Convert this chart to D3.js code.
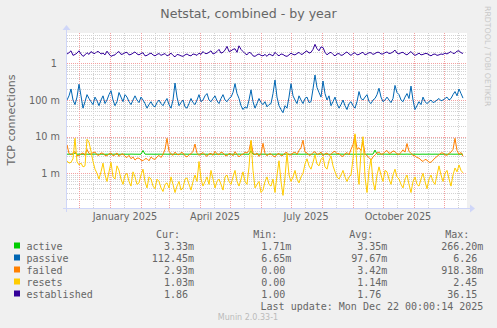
<!DOCTYPE html>
<html><head><meta charset="utf-8">
<script src="https://cdn.jsdelivr.net/npm/d3@7"></script>
<style>
html,body{margin:0;padding:0;background:#f0f0f0;}
svg{display:block;}
text{font-family:"DejaVu Sans",sans-serif;}
.mono{font-family:"DejaVu Sans Mono",monospace;white-space:pre;}
</style></head><body>
<svg id="c" width="497" height="328"></svg>
<script>
// ---------------- data ----------------
const seriesNames = ["active", "passive", "failed", "resets", "established"];
const seriesColors = ["#00cc00", "#0066b3", "#ff8000", "#ffcc00", "#330099"];
const firstSample = "2024-11-19";   // samples every 2 days
const sampleStepDays = 2;

const active = [0.00333,0.00334,0.00335,0.00333,0.0036,0.00334,0.00333,0.00332,0.00333,0.00334,0.00333,0.00333,0.00334,0.00333,0.00335,0.00333,0.00333,0.00334,0.00333,0.00332,
0.00333,0.00334,0.00333,0.00333,0.00335,0.00333,0.00332,0.00333,0.00334,0.00333,0.00333,0.00333,0.00335,0.00334,0.00333,0.00333,0.00332,0.00333,0.0042,0.00334,
0.00333,0.00333,0.00334,0.00333,0.00332,0.00333,0.00334,0.00333,0.00333,0.00335,0.00333,0.00333,0.00334,0.00333,0.00333,0.00332,0.00333,0.00334,0.00333,0.00335,
0.00333,0.00334,0.00333,0.00333,0.00332,0.00333,0.00335,0.00333,0.00334,0.00333,0.00333,0.00333,0.00334,0.00332,0.00333,0.00333,0.00335,0.00333,0.00334,0.00333,
0.00333,0.00332,0.00333,0.00334,0.00333,0.00333,0.00335,0.00333,0.00334,0.00333,0.00333,0.00332,0.0041,0.00334,0.00333,0.00335,0.00333,0.00333,0.00334,0.00333,
0.00333,0.00332,0.00333,0.00334,0.00333,0.00333,0.00335,0.00333,0.00333,0.00334,0.00333,0.00332,0.00333,0.00333,0.00334,0.00333,0.00335,0.00333,0.00333,0.00334,
0.00333,0.00333,0.00332,0.00333,0.00334,0.00333,0.00333,0.00335,0.00333,0.00334,0.00333,0.00333,0.00332,0.00333,0.00334,0.00333,0.00333,0.00335,0.00333,0.00333,
0.00334,0.00333,0.00333,0.00332,0.00333,0.00334,0.00333,0.00333,0.00335,0.00333,0.00333,0.00334,0.00333,0.00333,0.0043,0.00333,0.00334,0.00333,0.00333,0.00335,
0.00333,0.00333,0.00334,0.00333,0.00333,0.00332,0.00333,0.00334,0.00333,0.00333,0.00335,0.00333,0.00333,0.00334,0.00333,0.00333,0.00332,0.00333,0.00334,0.00333,
0.00333,0.00335,0.00333,0.00333,0.00334,0.00333,0.00333,0.00332,0.00333,0.00334,0.00333,0.00333,0.00335,0.00333,0.00333,0.00334,0.00333,0.00332,0.00333];

const passive = [0.1,0.13,0.2,0.1,0.075,0.12,0.27,0.13,0.06,0.09,0.14,0.11,0.09,0.075,0.12,0.095,0.07,0.1,0.13,0.08,
0.1,0.14,0.18,0.1,0.07,0.09,0.16,0.12,0.09,0.14,0.12,0.09,0.075,0.1,0.13,0.1,0.085,0.12,0.1,0.08,
0.06,0.075,0.09,0.07,0.065,0.085,0.1,0.08,0.07,0.09,0.11,0.075,0.06,0.1,0.29,0.12,0.07,0.085,0.1,0.065,
0.06,0.08,0.11,0.085,0.075,0.1,0.14,0.09,0.1,0.13,0.15,0.1,0.09,0.11,0.13,0.095,0.08,0.11,0.14,0.1,
0.09,0.11,0.12,0.16,0.28,0.15,0.11,0.07,0.055,0.065,0.06,0.1,0.19,0.09,0.06,0.08,0.11,0.085,0.075,0.09,
0.065,0.075,0.08,0.15,0.35,0.12,0.07,0.055,0.045,0.07,0.06,0.12,0.28,0.13,0.1,0.08,0.13,0.1,0.08,0.11,
0.12,0.085,0.09,0.2,0.48,0.22,0.16,0.12,0.33,0.15,0.1,0.13,0.07,0.09,0.12,0.08,0.06,0.075,0.1,0.07,
0.055,0.08,0.09,0.07,0.06,0.09,0.17,0.11,0.1,0.12,0.14,0.09,0.08,0.1,0.11,0.14,0.21,0.12,0.09,0.1,
0.12,0.1,0.085,0.11,0.25,0.16,0.14,0.1,0.09,0.12,0.15,0.11,0.24,0.1,0.055,0.07,0.09,0.075,0.12,0.09,
0.08,0.09,0.1,0.085,0.09,0.1,0.11,0.095,0.1,0.11,0.12,0.1,0.11,0.14,0.17,0.13,0.2,0.15,0.1125];

const failed = [0.006,0.0035,0.0032,0.0037,0.0039,0.0031,0.003,0.0034,0.0036,0.0031,0.0045,0.0035,0.0033,0.0037,0.0038,0.0032,0.0031,0.0036,0.0035,0.0031,
0.003,0.0034,0.0036,0.003,0.0032,0.0036,0.0029,0.0033,0.0034,0.0029,0.0027,0.0031,0.0025,0.0028,0.0023,0.0026,0.0026,0.0023,0.0022,0.0025,
0.0025,0.0022,0.0028,0.0025,0.0024,0.0028,0.0031,0.0027,0.0033,0.0045,0.009,0.004,0.0034,0.0031,0.0038,0.0033,0.0032,0.0037,0.0036,0.003,
0.0028,0.0032,0.0034,0.004,0.0063,0.0035,0.0031,0.0034,0.0037,0.0032,0.0029,0.0034,0.0035,0.0031,0.004,0.0034,0.0032,0.0038,0.0036,0.0031,
0.003,0.0035,0.0034,0.003,0.0039,0.0033,0.0028,0.0032,0.0033,0.0038,0.0036,0.0042,0.0075,0.0036,0.0032,0.0036,0.0029,0.0034,0.0066,0.0035,
0.003,0.0034,0.0034,0.003,0.0028,0.0033,0.0035,0.003,0.0031,0.0036,0.0037,0.0032,0.0032,0.0036,0.0038,0.0033,0.0042,0.005,0.008,0.0038,
0.0036,0.0031,0.0032,0.0037,0.0039,0.0033,0.0034,0.0038,0.003,0.0034,0.0036,0.0031,0.0033,0.0038,0.004,0.0034,0.0035,0.003,0.0029,0.0034,
0.0037,0.0032,0.0045,0.006,0.011,0.0045,0.005,0.0042,0.0075,0.0034,0.003,0.0027,0.0023,0.0028,0.0032,0.0036,0.0038,0.0033,0.0034,0.0039,
0.0042,0.0035,0.0036,0.0041,0.0039,0.0034,0.0033,0.0037,0.0044,0.0038,0.0065,0.004,0.0035,0.0031,0.003,0.0027,0.0026,0.0023,0.0021,0.0024,
0.0023,0.002,0.002,0.0023,0.0026,0.0029,0.0032,0.0036,0.0036,0.0032,0.0031,0.0035,0.0038,0.0045,0.009,0.0042,0.0033,0.0037,0.00293];

const resets = [0.0022,0.0019,0.002,0.0025,0.009,0.0021,0.0017,0.0019,0.0015,0.0016,0.0085,0.007,0.004,0.0021,0.0013,0.001,0.0007,0.0011,0.0019,0.0009,
0.0006,0.0011,0.002,0.0008,0.0007,0.0016,0.0012,0.0007,0.0005,0.0009,0.001,0.0006,0.00045,0.0011,0.0008,0.0005,0.00055,0.0009,0.0013,0.0006,
0.0004,0.0008,0.0007,0.00045,0.00038,0.0007,0.0006,0.0004,0.00032,0.0005,0.00055,0.0004,0.0008,0.0005,0.0003,0.00045,0.0006,0.00035,0.0004,0.0007,
0.00075,0.0005,0.00035,0.0006,0.0009,0.0006,0.0021,0.0007,0.00045,0.0006,0.0008,0.0005,0.0012,0.0007,0.0004,0.0006,0.0007,0.0005,0.00035,0.0008,
0.0009,0.0006,0.0005,0.0008,0.0012,0.0006,0.00045,0.0007,0.0011,0.0006,0.0005,0.0015,0.008,0.0012,0.0004,0.0005,0.0006,0.0003,0.00035,0.0006,
0.0008,0.0005,0.00045,0.0007,0.0003,0.0009,0.0022,0.0006,0.00025,0.0008,0.0035,0.0009,0.0006,0.0008,0.0012,0.0007,0.00055,0.0008,0.001,0.0018,
0.0025,0.0016,0.0013,0.002,0.0032,0.0018,0.0016,0.0024,0.0028,0.0015,0.0013,0.0022,0.003,0.0016,0.0011,0.0008,0.0007,0.0009,0.0012,0.0008,
0.0006,0.0008,0.0009,0.0025,0.012,0.0015,0.0005,0.004,0.01,0.0008,0.0003,0.0012,0.0025,0.0006,0.00035,0.0009,0.0015,0.0009,0.0006,0.0012,
0.0011,0.0007,0.0005,0.0009,0.0013,0.0008,0.0007,0.0005,0.0004,0.0007,0.0009,0.0005,0.0003,0.0006,0.0008,0.0005,0.00045,0.0007,0.001,0.0006,
0.00038,0.0007,0.0009,0.0006,0.0005,0.0009,0.0016,0.0009,0.0006,0.001,0.0012,0.0007,0.00045,0.0009,0.0014,0.0011,0.0017,0.0012,0.00103];

const established = [1.8,1.95,2.2,1.65,1.75,1.9,2.2,1.8,1.55,1.7,1.95,1.75,2.1,1.9,1.85,2.1,2.05,1.8,1.9,1.7,
2.15,1.8,1.55,1.65,1.7,1.95,2.1,1.75,1.8,1.95,2.0,1.7,1.75,1.9,2.05,1.8,1.7,1.85,1.95,1.6,
1.65,1.8,1.9,1.7,1.6,1.75,1.85,1.65,1.75,1.85,1.6,1.7,1.9,1.65,1.5,1.75,1.7,1.6,1.55,1.7,
1.8,1.65,1.6,1.8,1.75,1.65,1.9,1.75,2.1,1.85,1.85,2.0,2.2,1.8,1.9,2.1,2.4,1.9,2.0,2.3,
2.9,2.1,2.2,2.4,2.5,2.0,3.0,2.4,2.1,1.85,1.7,2.0,1.9,1.6,1.55,1.7,1.8,1.65,1.6,1.75,
1.55,1.8,1.7,1.6,2.0,1.75,1.6,1.8,1.75,1.6,1.55,1.7,1.9,1.75,1.7,1.85,2.0,1.75,1.8,2.05,
2.2,1.9,2.0,2.4,3.3,2.5,2.2,2.8,2.7,2.0,1.7,1.9,2.0,1.75,1.6,1.8,1.85,1.65,1.7,1.9,
2.05,1.8,1.65,1.85,1.95,1.7,1.75,1.9,2.0,1.7,1.8,1.95,1.95,1.75,1.85,2.0,2.0,1.8,1.8,1.95,
2.05,1.85,1.9,2.05,2.3,1.9,1.8,1.95,2.0,1.8,1.7,1.9,2.1,1.8,1.65,1.75,1.9,1.7,1.75,1.85,
1.85,1.7,1.6,1.75,1.8,1.65,1.7,1.8,1.75,1.9,1.8,1.95,2.1,1.85,1.9,2.15,2.2,1.95,1.86];

const yTickValues = [0.001, 0.01, 0.1, 1];
const yTickLabels = ["1 m", "10 m", "100 m", "1 "];
const xLabelDates = ["2025-01-16", "2025-04-16", "2025-07-16", "2025-10-16"];
const xLabelTexts = ["January 2025", "April 2025", "July 2025", "October 2025"];

const legendCur = ["3.33m", "112.45m", "2.93m", "1.03m", "1.86\u00a0"];
const legendMin = ["1.71m", "6.65m", "0.00\u00a0", "0.00\u00a0", "1.00\u00a0"];
const legendAvg = ["3.35m", "97.67m", "3.42m", "1.14m", "1.76\u00a0"];
const legendMax = ["266.20m", "6.26\u00a0", "918.38m", "2.45\u00a0", "36.15\u00a0"];
const legendHeaders = ["Cur:", "Min:", "Avg:", "Max:"];

// ---------------- drawing ----------------
const svg = d3.select("#c");
svg.append("rect").attr("width", 497).attr("height", 328).attr("fill", "#f0f0f0");

const L = 67, R = 467, T = 33, B = 208;
const x = d3.scaleUtc()
  .domain([new Date(Date.UTC(2024, 10, 19)), new Date(Date.UTC(2025, 11, 24))])
  .range([L, R]);
const y = d3.scaleLog().domain([1.135e-4, 6.72]).range([B, T]);

svg.append("rect").attr("x", L).attr("y", T).attr("width", R - L).attr("height", B - T).attr("fill", "#ffffff");

const g = svg.append("g");
const minorY = [];
[1e-4, 1e-3, 1e-2, 1e-1, 1].forEach(d => { for (let m = 2; m <= 9; m++) { const v = d * m; if (v > y.domain()[0] && v < y.domain()[1]) minorY.push(v); } });
g.selectAll(".hminor").data(minorY).join("line")
  .attr("x1", L).attr("x2", R)
  .attr("y1", d => Math.round(y(d)) + 0.5).attr("y2", d => Math.round(y(d)) + 0.5)
  .attr("stroke", "#d2d2d2").attr("stroke-dasharray", "1,1");
const t0 = x.domain()[0], t1 = x.domain()[1];
const midMonths = d3.utcMonth.range(d3.utcMonth.floor(t0), t1).map(d => d3.utcDay.offset(d, 14)).filter(d => d > t0 && d < t1);
g.selectAll(".vminor").data(midMonths).join("line")
  .attr("x1", d => Math.round(x(d)) + 0.5).attr("x2", d => Math.round(x(d)) + 0.5)
  .attr("y1", T).attr("y2", B)
  .attr("stroke", "#d2d2d2").attr("stroke-dasharray", "1,1");
g.selectAll(".hmajor").data(yTickValues).join("line")
  .attr("x1", L).attr("x2", R)
  .attr("y1", d => Math.round(y(d)) + 0.5).attr("y2", d => Math.round(y(d)) + 0.5)
  .attr("stroke", "#f4a0a0").attr("stroke-dasharray", "1,1");
const months = d3.utcMonth.range(d3.utcMonth.ceil(t0), t1);
g.selectAll(".vmajor").data(months).join("line")
  .attr("x1", d => Math.round(x(d)) + 0.5).attr("x2", d => Math.round(x(d)) + 0.5)
  .attr("y1", T).attr("y2", B)
  .attr("stroke", "#f4a0a0").attr("stroke-dasharray", "1,1");

// data lines
const start = new Date(firstSample + "T00:00:00Z");
const allSeries = [active, passive, failed, resets, established];
const line = d3.line().defined(d => d[1] > 0).x(d => x(d[0])).y(d => y(d[1]));
allSeries.forEach((s, k) => {
  svg.append("path").datum(s.map((v, i) => [d3.utcDay.offset(start, i * sampleStepDays), v]))
    .attr("d", line).attr("fill", "none").attr("stroke", seriesColors[k]).attr("stroke-width", 1);
});

// axes
const axisColor = "#cfd6f8";
svg.append("line").attr("x1", 63).attr("x2", 470).attr("y1", B + 0.5).attr("y2", B + 0.5).attr("stroke", axisColor);
svg.append("line").attr("x1", L - 0.5).attr("x2", L - 0.5).attr("y1", 212).attr("y2", 30).attr("stroke", axisColor);
svg.append("path").attr("d", `M470,${B - 3.5}L475,${B + 0.5}L470,${B + 4.5}Z`).attr("fill", axisColor);
svg.append("path").attr("d", `M${L - 4.5},30L${L - 0.5},25L${L + 3.5},30Z`).attr("fill", axisColor);

// y tick labels
svg.selectAll(".ylab").data(yTickValues).join("text")
  .attr("x", 60).attr("y", d => y(d) + 3.5)
  .attr("text-anchor", "end").attr("fill", "#666").attr("font-size", 9.7)
  .style("white-space", "pre")
  .text((d, i) => yTickLabels[i]);

// x labels
svg.selectAll(".xlab").data(xLabelDates).join("text")
  .attr("x", d => x(new Date(d + "T00:00:00Z"))).attr("y", 220)
  .attr("text-anchor", "middle").attr("fill", "#666").attr("font-size", 9.7)
  .text((d, i) => xLabelTexts[i]);

svg.append("text").attr("x", 248.5).attr("y", 18).attr("text-anchor", "middle")
  .attr("fill", "#666").attr("font-size", 12.6).text("Netstat, combined - by year");
svg.append("text").attr("transform", "translate(15,120) rotate(-90)").attr("text-anchor", "middle")
  .attr("fill", "#666").attr("font-size", 11.1).text("TCP connections");
svg.append("text").attr("transform", "translate(485,6) rotate(90)").attr("text-anchor", "start")
  .attr("fill", "#c8c8c8").attr("font-size", 7.8).text("RRDTOOL / TOBI OETIKER");

// legend
const lg = svg.append("g").attr("font-size", 10).attr("fill", "#666");
const colRight = [194, 291.3, 387.3, 483.3];
legendHeaders.forEach((h, j) => {
  lg.append("text").attr("class", "mono").attr("x", colRight[j] - 14).attr("y", 237.5).attr("text-anchor", "end").text(h);
});
const cols = [legendCur, legendMin, legendAvg, legendMax];
seriesNames.forEach((n, i) => {
  const by = 249.5 + i * 12;
  svg.append("rect").attr("x", 14).attr("y", by - 7).attr("width", 6).attr("height", 6).attr("fill", seriesColors[i]);
  lg.append("text").attr("class", "mono").attr("x", 26.5).attr("y", by).text(n);
  cols.forEach((c, j) => {
    lg.append("text").attr("class", "mono").attr("x", colRight[j]).attr("y", by).attr("text-anchor", "end").text(c[i]);
  });
});
lg.append("text").attr("class", "mono").attr("x", 483.3).attr("y", 309.5).attr("text-anchor", "end")
  .text("Last update: Mon Dec 22 00:00:14 2025");
svg.append("text").attr("x", 248).attr("y", 320).attr("text-anchor", "middle")
  .attr("fill", "#bbbbbb").attr("font-size", 8).text("Munin 2.0.33-1");
</script>
</body></html>
